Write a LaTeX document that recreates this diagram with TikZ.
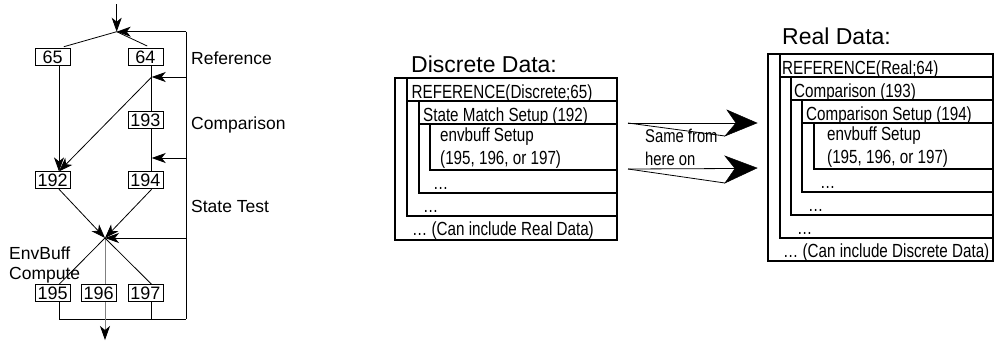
\documentclass[tikz,border=0pt]{standalone}
\usepackage{fontspec}
\setmainfont{Liberation Sans}
\newfontfamily\narrowfont[FakeStretch=0.80]{Liberation Sans}
\usetikzlibrary{arrows.meta,calc}
\begin{document}
\begin{tikzpicture}[x=1pt,y=-1pt,
  numbox/.style={draw,line width=0.8pt,minimum width=35pt,minimum height=17pt,inner sep=0pt,font=\fontsize{18}{18}\selectfont},
  lbl/.style={anchor=west,inner sep=0pt,align=left,font=\fontsize{17.5}{20}\selectfont},
  flow/.style={line width=0.8pt},
  arr/.style={flow,-{Stealth[length=14pt,width=10pt,inset=4pt]}},
  frame/.style={line width=1.1pt},
  ptxt/.style={anchor=base west,inner sep=0pt,font=\narrowfont\fontsize{19}{20}\selectfont},
  title/.style={anchor=base west,inner sep=0pt,font=\fontsize{23}{24}\selectfont},
  head/.style={fill=black,draw=black,line width=0.5pt,line join=miter},
]
\useasboundingbox (0,0) rectangle (994,341);

% ---------------- left flow diagram ----------------
\node[numbox] (b65)  at (52.7,57)    {65};
\node[numbox] (b64)  at (145.4,57)   {64};
\node[numbox] (b193) at (145.4,120)  {193};
\node[numbox] (b192) at (52.7,180.3) {192};
\node[numbox] (b194) at (145.4,180.3){194};
\node[numbox] (b195) at (52.7,293.3) {195};
\node[numbox] (b196) at (98.7,293.3) {196};
\node[numbox] (b197) at (145.4,293.3){197};

\coordinate (top)  at (116.7,4);
\coordinate (j1)   at (116.7,31.7);
\coordinate (rtop) at (186,31.7);
\coordinate (rbot) at (186,319);
\coordinate (k1)   at (151.7,77);
\coordinate (k1r)  at (186,77);
\coordinate (k2)   at (151.7,158);
\coordinate (k2r)  at (186,158);
\coordinate (j2)   at (105,238);
\coordinate (j2r)  at (186,238);
\coordinate (out)  at (105,340);

\draw[arr] (top) -- (j1);
\draw[arr] (rtop) -- (j1);
\draw[flow] (rtop) -- (rbot);
\draw[flow,shorten >=5pt] (j1) -- ([xshift=6.3pt]b65.north);
\draw[flow,shorten >=5pt] (j1) -- ([xshift=6.3pt]b64.north);
\draw[arr] ([xshift=6.3pt]b65.south) -- ([xshift=6.3pt]b192.north);
\draw[flow] ([xshift=6.3pt]b64.south) -- ([xshift=6.3pt]b193.north);
\draw[arr] (k1r) -- (k1);
\draw[arr] (k1) -- ([xshift=6.3pt]b192.north);
\draw[flow] ([xshift=6.3pt]b193.south) -- ([xshift=6.3pt]b194.north);
\draw[arr] (k2r) -- (k2);
\draw[arr] ([xshift=6.3pt]b192.south) -- (j2);
\draw[arr] ([xshift=6.3pt]b194.south) -- (j2);
\draw[arr] (j2r) -- (j2);
\draw[flow] (j2) -- ([xshift=6.3pt]b195.north);
\draw[flow,gray] (j2) -- ([xshift=6.3pt]b196.north);
\draw[flow] (j2) -- ([xshift=6.3pt]b197.north);
\draw[flow] ([xshift=6.3pt]b195.south) |- (rbot);
\draw[flow] ([xshift=6.3pt]b197.south) -- ([xshift=6.3pt]b197.south |- rbot);
\draw[flow,gray,-{Stealth[length=14pt,width=10pt,inset=4pt,black]}] ([xshift=6.3pt]b196.south) -- (out);

\node[lbl] (lref) at (191,58)  {Reference};
\node[lbl] (lcmp) at (191,125) {Comparison};
\node[lbl] (lst)  at (191,206) {State Test};
\node[lbl] (lenv) at (9,265)   {EnvBuff\\Compute};

% ---------------- Discrete Data panel ----------------
\node[title] (tdis) at (411,72) {Discrete Data:};
\draw[frame] (395,78) rectangle (617,240);
\draw[frame] (407,78) rectangle (617,216);
\draw[frame] (407,101) -- (617,101);
\draw[frame] (419,101) rectangle (617,193);
\draw[frame] (419,124) -- (617,124);
\draw[frame] (430,124) rectangle (617,170);
\node[ptxt] (d1) at (411.5,98)  {REFERENCE(Discrete;65)};
\node[ptxt] (d2) at (423,121)   {State Match Setup (192)};
\node[ptxt] (d3) at (440,141)   {envbuff Setup};
\node[ptxt] (d4) at (440,164)   {(195, 196, or 197)};
\node[ptxt] (d5) at (433,189)   {…};
\node[ptxt] (d6) at (423,212)   {…};
\node[ptxt] (d7) at (412,235)   {… (Can include Real Data)};

% ---------------- Real Data panel ----------------
\node[title] (treal) at (782,44) {Real Data:};
\draw[frame] (768,54) rectangle (993,261);
\draw[frame] (780,54) rectangle (993,238);
\draw[frame] (780,77) -- (993,77);
\draw[frame] (791,77) rectangle (993,215);
\draw[frame] (791,100) -- (993,100);
\draw[frame] (802,100) rectangle (993,192);
\draw[frame] (802,123) -- (993,123);
\draw[frame] (814,123) rectangle (993,169);
\node[ptxt] (r1) at (782,74)  {REFERENCE(Real;64)};
\node[ptxt] (r2) at (794,97)  {Comparison (193)};
\node[ptxt] (r3) at (806,120) {Comparison Setup (194)};
\node[ptxt] (r4) at (827,140) {envbuff Setup};
\node[ptxt] (r5) at (827,163) {(195, 196, or 197)};
\node[ptxt] (r6) at (820,188) {…};
\node[ptxt] (r7) at (808,211) {…};
\node[ptxt] (r8) at (797,234) {…};
\node[ptxt] (r9) at (783,257) {… (Can include Discrete Data)};

% ---------------- "Same from here on" arrows ----------------
\coordinate (a1s) at (628,123);
\coordinate (a1t) at (757,123);
\coordinate (a1u) at (727,110);
\coordinate (a1n) at (736,123);
\coordinate (a1b) at (725,136);
\coordinate (a2s) at (628,169);
\coordinate (a2t) at (757,168);
\coordinate (a2u) at (725,156);
\coordinate (a2n) at (735,168.5);
\coordinate (a2b) at (725,183);
\draw[flow] (a1s) -- (a1n);
\draw[flow] (a1s) -- (a1b);
\draw[head] (a1t) -- (a1u) -- (a1n) -- (a1b) -- cycle;
\draw[flow] (a2s) -- (a2n);
\draw[flow] (a2s) -- (a2b);
\draw[head] (a2t) -- (a2u) -- (a2n) -- (a2b) -- cycle;
\node[ptxt,font=\narrowfont\fontsize{18.5}{20}\selectfont] (same1) at (645,142) {Same from};
\node[ptxt,font=\narrowfont\fontsize{18.5}{20}\selectfont] (same2) at (645,165) {here on};
\end{tikzpicture}
\end{document}
